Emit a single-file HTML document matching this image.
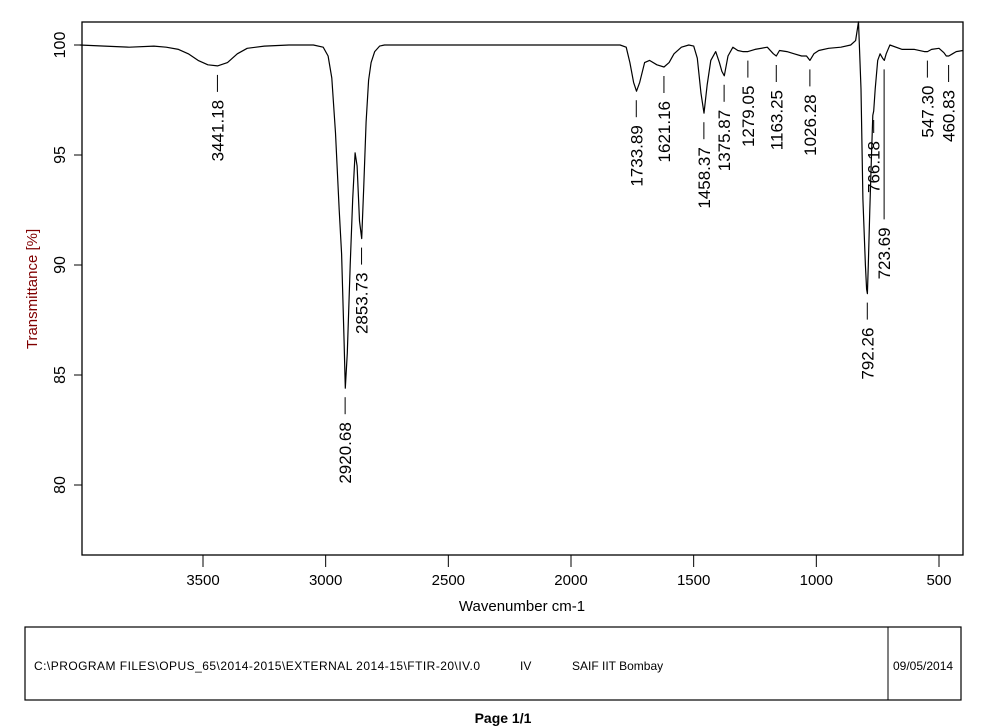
<!DOCTYPE html>
<html><head><meta charset="utf-8"><style>
body{margin:0;background:#fff;width:990px;height:727px;overflow:hidden;font-family:"Liberation Sans",Arial,sans-serif}
svg{display:block}
</style></head><body>
<svg id="c" width="990" height="727" font-family="Liberation Sans, Arial, sans-serif"></svg>
<script>
const wavenumbers=[4002,3900,3800,3700,3650,3600,3560,3520,3480,3441,3400,3360,3320,3250,3150,3050,3010,2990,2975,2960,2945,2935,2925,2920,2912,2900,2890,2880,2872,2862,2853,2845,2835,2825,2815,2800,2780,2760,2700,2500,2200,2000,1800,1775,1760,1745,1733,1720,1700,1680,1650,1621,1600,1580,1550,1520,1500,1485,1470,1458,1445,1430,1410,1395,1385,1375,1360,1340,1320,1300,1279,1250,1200,1175,1163,1150,1120,1090,1060,1040,1026,1010,990,950,900,860,840,828,818,810,800,795,792,788,782,775,770,766,760,750,740,730,723,715,700,650,600,560,547,530,500,480,470,460,445,430,402];
const transmittance=[100,99.95,99.9,99.95,99.9,99.8,99.6,99.3,99.1,99.05,99.2,99.6,99.85,99.95,100,100,99.9,99.5,98.5,96,92.5,90.5,86.5,84.4,86,90,93,95.1,94.5,92,91.2,93.5,96.5,98.4,99.2,99.7,99.95,100,100,100,100,100,100,99.9,99.2,98.3,97.9,98.3,99.2,99.3,99.1,99.0,99.2,99.6,99.9,100,99.95,99.4,97.8,96.9,98.2,99.3,99.7,99.2,98.8,98.6,99.5,99.9,99.75,99.7,99.7,99.8,99.9,99.6,99.5,99.75,99.7,99.6,99.5,99.5,99.3,99.6,99.75,99.85,99.9,100,100.2,101.05,98,93,90,88.9,88.7,90,92.5,95,96.8,97.0,98,99.3,99.6,99.4,99.3,99.6,100,99.8,99.8,99.7,99.7,99.8,99.85,99.65,99.5,99.5,99.6,99.7,99.75];
const peakLabels=["3441.18","2920.68","2853.73","1733.89","1621.16","1458.37","1375.87","1279.05","1163.25","1026.28","792.26","766.18","723.69","547.30","460.83"];
const peakWn=[3441.18,2920.68,2853.73,1733.89,1621.16,1458.37,1375.87,1279.05,1163.25,1026.28,792.26,766.18,723.69,547.30,460.83];
const peakT=[99.05,84.4,91.2,97.9,99.0,96.9,98.6,99.7,99.5,99.3,88.7,97.0,99.3,99.7,99.5];
const peakLineLen=[17,17,17,17,17,17,17,17,17,17,17,13,150,17,17];
const yTicks=[80,85,90,95,100];
const xTicks=[3500,3000,2500,2000,1500,1000,500];

const L=82,R=963,T=22,B=555;
const x=w=>203+(3500-w)*0.24533;
const y=t=>45+(100-t)*22;
const NS="http://www.w3.org/2000/svg";
const svg=document.getElementById('c');
function mk(tag,attrs,parent){const e=document.createElementNS(NS,tag);for(const k in attrs)e.setAttribute(k,attrs[k]);(parent||svg).appendChild(e);return e;}

let fr=mk('rect',{x:L,y:T,width:R-L,height:B-T,fill:'none',stroke:'#000','stroke-width':1.3});



const g=mk('g',{});


yTicks.forEach(v=>{
  const l=mk('line',{x1:L-8,x2:L,y1:y(v),y2:y(v),stroke:'#000'},g);
  
  
  const t=mk('text',{x:0,y:0,transform:`translate(${L-17},${y(v)}) rotate(-90)`,'text-anchor':'middle','font-size':16},g);
  t.textContent=v;
  
  
});
const gx=mk('g',{});


xTicks.forEach(v=>{
  const l=mk('line',{x1:x(v),x2:x(v),y1:B,y2:B+12,stroke:'#000'},gx);
  
  
  const t=mk('text',{x:x(v),y:B+30,'text-anchor':'middle','font-size':15},gx);
  t.textContent=v;
  
  
});
let xt=mk('text',{x:522,y:611,'text-anchor':'middle','font-size':15});
xt.textContent='Wavenumber cm-1';


let yt=mk('text',{x:0,y:0,transform:'translate(37,289) rotate(-90)','text-anchor':'middle','font-size':15,fill:'#800000'});
yt.textContent='Transmittance [%]';



let d=wavenumbers.map((w,i)=>(i?'L':'M')+x(w).toFixed(1)+','+y(transmittance[i]).toFixed(1)).join('');
let p=mk('path',{d:d,fill:'none',stroke:'#000','stroke-width':1.2,'stroke-linejoin':'round'});



peakLabels.forEach((lab,i)=>{
  const px=x(peakWn[i]);
  const y0=y(peakT[i])+9, y1=y0+peakLineLen[i];
  const l=mk('line',{x1:px,x2:px,y1:y0,y2:y1,stroke:'#000'});
  
  
  const t=mk('text',{x:0,y:0,transform:`translate(${px+6},${y1+8}) rotate(-90)`,'text-anchor':'end','font-size':17});
  t.textContent=lab;
  
  
});

let fb=mk('rect',{x:25,y:627,width:936,height:73,fill:'none',stroke:'#000','stroke-width':1.2});


let dv=mk('line',{x1:888,x2:888,y1:627,y2:700,stroke:'#000'});


[['C:\\PROGRAM FILES\\OPUS_65\\2014-2015\\EXTERNAL 2014-15\\FTIR-20\\IV.0',34,'file-path'],['IV',520,'sample-name'],['SAIF IIT Bombay',572,'lab-name'],['09/05/2014',893,'date']].forEach(a=>{
  const t=mk('text',{x:a[1],y:670,'font-size':12});
  if(a[2]=='file-path')t.setAttribute('textLength',446);
  t.textContent=a[0];
  
  
});
let pg=mk('text',{x:503,y:723,'text-anchor':'middle','font-size':14,'font-weight':'bold'});
pg.textContent='Page 1/1';


</script>
</body></html>
